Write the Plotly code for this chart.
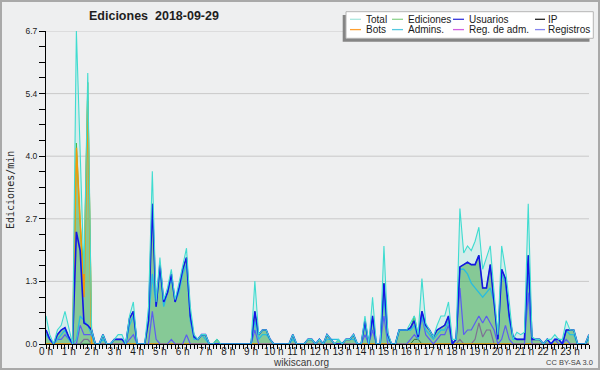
import plotly.graph_objects as go

# ---------------- data (10-minute bins, 0:00 .. 23:50), edits per minute ----------------
HOUR_LABELS = [f"{h} h" for h in range(24)]
BIN_X = [h + m / 60 for h in range(24) for m in (0, 10, 20, 30, 40, 50)]

TOTAL = [
    0.6, 0.2, 0.0, 0.3, 0.4, 0.7,      # 0 h
    0.35, 0.0, 6.7, 3.9, 1.5, 5.8,     # 1 h
    0.3, 0.0, 0.0, 0.2, 0.0, 0.0,      # 2 h
    0.1, 0.2, 0.2, 0.0, 0.6, 0.9,      # 3 h
    0.0, 0.0, 0.0, 0.8, 3.7, 0.9,      # 4 h
    1.85, 0.95, 1.2, 1.6, 0.95, 1.3,   # 5 h
    1.7, 2.05, 0.8, 0.2, 0.1, 0.2,     # 6 h
    0.2, 0.0, 0.0, 0.1, 0.0, 0.0,      # 7 h
    0.0, 0.0, 0.0, 0.0, 0.0, 0.0,      # 8 h
    0.0, 1.35, 0.2, 0.3, 0.3, 0.1,     # 9 h
    0.0, 0.0, 0.0, 0.0, 0.0, 0.2,      # 10 h
    0.0, 0.0, 0.0, 0.1, 0.1, 0.0,      # 11 h
    0.1, 0.0, 0.2, 0.1, 0.0, 0.1,      # 12 h
    0.0, 0.1, 0.1, 0.2, 0.0, 0.0,      # 13 h
    0.6, 0.0, 1.0, 0.0, 0.0, 2.1,      # 14 h
    0.25, 0.0, 0.0, 0.3, 0.3, 0.3,     # 15 h
    0.45, 0.6, 0.2, 1.4, 0.45, 0.3,    # 16 h
    0.15, 0.4, 0.6, 0.6, 0.9, 0.1,     # 17 h
    0.1, 2.9, 1.95, 2.1, 2.0, 2.2,     # 18 h
    2.5, 1.6, 1.85, 2.1, 1.1, 0.2,     # 19 h
    2.1, 1.6, 0.9, 0.1, 0.25, 0.2,     # 20 h
    0.25, 3.0, 0.15, 0.1, 0.1, 0.0,    # 21 h
    0.1, 0.1, 0.2, 0.1, 0.1, 0.5,      # 22 h
    0.3, 0.3, 0.0, 0.0, 0.0, 0.2,      # 23 h
]

EDICIONES = [
    0.3, 0.1, 0.0, 0.2, 0.3, 0.35,
    0.15, 0.0, 4.3, 2.6, 1.5, 5.6,
    0.3, 0.0, 0.0, 0.2, 0.0, 0.0,
    0.1, 0.1, 0.1, 0.0, 0.55, 0.7,
    0.0, 0.0, 0.0, 0.5, 3.0, 0.8,
    1.7, 0.9, 1.1, 1.5, 0.9, 1.2,
    1.6, 1.85, 0.6, 0.15, 0.1, 0.2,
    0.2, 0.0, 0.0, 0.1, 0.0, 0.0,
    0.0, 0.0, 0.0, 0.0, 0.0, 0.0,
    0.0, 0.7, 0.2, 0.3, 0.3, 0.1,
    0.0, 0.0, 0.0, 0.0, 0.0, 0.2,
    0.0, 0.0, 0.0, 0.1, 0.1, 0.0,
    0.1, 0.0, 0.2, 0.1, 0.0, 0.1,
    0.0, 0.1, 0.1, 0.2, 0.0, 0.0,
    0.5, 0.0, 0.6, 0.0, 0.0, 1.3,
    0.2, 0.0, 0.0, 0.3, 0.3, 0.3,
    0.35, 0.6, 0.2, 0.7, 0.4, 0.3,
    0.15, 0.3, 0.35, 0.4, 0.6, 0.0,
    0.1, 1.65, 1.7, 1.75, 1.7, 1.7,
    1.9, 1.2, 1.2, 1.7, 0.9, 0.1,
    1.6, 1.4, 0.6, 0.15, 0.1, 0.1,
    0.1, 1.9, 0.1, 0.1, 0.1, 0.0,
    0.1, 0.0, 0.1, 0.1, 0.0, 0.3,
    0.3, 0.3, 0.0, 0.0, 0.0, 0.2,
]

USUARIOS = [
    0.3, 0.1, 0.0, 0.2, 0.3, 0.35,
    0.15, 0.0, 2.4, 2.0, 0.45, 0.4,
    0.3, 0.0, 0.0, 0.2, 0.0, 0.0,
    0.1, 0.1, 0.1, 0.0, 0.55, 0.7,
    0.0, 0.0, 0.0, 0.5, 3.0, 0.8,
    1.7, 0.9, 1.1, 1.5, 0.9, 1.2,
    1.6, 1.85, 0.6, 0.15, 0.1, 0.2,
    0.2, 0.0, 0.0, 0.0, 0.0, 0.0,
    0.0, 0.0, 0.0, 0.0, 0.0, 0.0,
    0.0, 0.7, 0.2, 0.3, 0.3, 0.1,
    0.0, 0.0, 0.0, 0.0, 0.0, 0.2,
    0.0, 0.0, 0.0, 0.1, 0.1, 0.0,
    0.1, 0.0, 0.2, 0.1, 0.0, 0.0,
    0.0, 0.1, 0.1, 0.2, 0.0, 0.0,
    0.5, 0.0, 0.6, 0.0, 0.0, 1.3,
    0.2, 0.0, 0.0, 0.3, 0.3, 0.3,
    0.35, 0.5, 0.15, 0.7, 0.4, 0.3,
    0.15, 0.3, 0.35, 0.4, 0.6, 0.0,
    0.1, 1.65, 1.7, 1.75, 1.7, 1.7,
    1.9, 1.2, 1.2, 1.7, 0.9, 0.1,
    1.6, 1.4, 0.6, 0.15, 0.1, 0.1,
    0.1, 1.9, 0.1, 0.1, 0.1, 0.0,
    0.1, 0.0, 0.1, 0.1, 0.0, 0.3,
    0.3, 0.3, 0.0, 0.0, 0.0, 0.2,
]

IP = [0.0] * 45 + [0.1] + [0.0] * 51 + [0.1, 0.1] + [0.0] * 45

BOTS = [0.0] * 8 + [4.2, 2.6, 1.0, 5.2] + [0.0] * 132

ADMINS = [
    0.2, 0.1, 0.0, 0.1, 0.2, 0.3,
    0.1, 0.0, 0.1, 0.6, 0.5, 0.4,
    0.2, 0.0, 0.0, 0.1, 0.0, 0.0,
    0.1, 0.1, 0.1, 0.0, 0.4, 0.6,
    0.0, 0.0, 0.0, 0.5, 1.5, 0.8,
    1.6, 0.8, 1.1, 1.4, 0.9, 1.1,
    1.5, 1.7, 0.5, 0.1, 0.1, 0.2,
    0.1, 0.0, 0.0, 0.0, 0.0, 0.0,
    0.0, 0.0, 0.0, 0.0, 0.0, 0.0,
    0.0, 0.5, 0.1, 0.2, 0.2, 0.1,
    0.0, 0.0, 0.0, 0.0, 0.0, 0.1,
    0.0, 0.0, 0.0, 0.1, 0.1, 0.0,
    0.1, 0.0, 0.1, 0.1, 0.1, 0.1,
    0.0, 0.1, 0.1, 0.1, 0.0, 0.0,
    0.4, 0.0, 0.5, 0.0, 0.0, 1.0,
    0.1, 0.0, 0.0, 0.3, 0.3, 0.3,
    0.3, 0.4, 0.1, 0.6, 0.3, 0.2,
    0.1, 0.2, 0.3, 0.3, 0.5, 0.0,
    0.1, 1.6, 1.6, 1.5, 1.3, 1.2,
    1.1, 1.0, 1.1, 1.2, 0.9, 0.1,
    1.5, 1.3, 0.5, 0.1, 0.1, 0.1,
    0.1, 1.6, 0.1, 0.1, 0.1, 0.0,
    0.1, 0.0, 0.1, 0.1, 0.0, 0.3,
    0.2, 0.2, 0.0, 0.0, 0.0, 0.1,
]

REG_ADM = [0.0] * 10 + [0.1, 0.1] + [0.0] * 97 + [0.1, 0.0, 0.0, 0.0, 0.1,
           0.45, 0.15, 0.3, 0.3] + [0.0] * 26

REGISTROS = [
    0.2, 0.1, 0.0, 0.1, 0.1, 0.2,
    0.1, 0.0, 0.0, 0.4, 0.2, 0.2,
    0.2, 0.0, 0.0, 0.0, 0.0, 0.0,
    0.0, 0.0, 0.0, 0.0, 0.1, 0.2,
    0.0, 0.0, 0.0, 0.0, 0.7, 0.1,
    0.0, 0.0, 0.0, 0.1, 0.0, 0.0,
    0.0, 0.2, 0.0, 0.0, 0.0, 0.0,
    0.0, 0.0, 0.0, 0.0, 0.0, 0.0,
    0.0, 0.0, 0.0, 0.0, 0.0, 0.0,
    0.0, 0.3, 0.0, 0.0, 0.0, 0.0,
    0.0, 0.0, 0.0, 0.0, 0.0, 0.0,
    0.0, 0.0, 0.0, 0.0, 0.0, 0.0,
    0.0, 0.0, 0.0, 0.0, 0.0, 0.0,
    0.0, 0.0, 0.0, 0.0, 0.0, 0.0,
    0.2, 0.0, 0.3, 0.0, 0.0, 0.6,
    0.0, 0.0, 0.0, 0.0, 0.0, 0.0,
    0.1, 0.2, 0.1, 0.6, 0.2, 0.1,
    0.0, 0.1, 0.2, 0.2, 0.4, 0.0,
    0.1, 1.2, 0.2, 0.3, 0.3, 0.45,
    0.6, 0.45, 0.6, 0.45, 0.3, 0.0,
    0.1, 0.4, 0.1, 0.0, 0.0, 0.0,
    0.0, 1.1, 0.0, 0.0, 0.0, 0.0,
    0.0, 0.0, 0.1, 0.0, 0.0, 0.1,
    0.0, 0.0, 0.0, 0.0, 0.0, 0.0,
]

Y_TICKS = [0.0, 1.34, 2.68, 4.02, 5.36, 6.7]
Y_TICK_LABELS = ["0.0", "1.3", "2.7", "4.0", "5.4", "6.7"]

LEGEND_ROWS = [["Total", "Ediciones", "Usuarios", "IP"],
               ["Bots", "Admins.", "Reg. de adm.", "Registros"]]
LEGEND_COLORS = [["#a9e7df", "#8fd48f", "#3535dc", "#222222"],
                 ["#ffa030", "#55c8e0", "#d060e0", "#8585ee"]]

# ---------------- layout geometry ----------------
W, H = 600, 370
L, R, T, B = 46, 589, 31, 344
BG = "#eeeff0"


def px(X):
    return (X - L) / (R - L)


def py(Y):
    return (B - Y) / (B - T)


fig = go.Figure()

# Total light fill
fig.add_trace(go.Scatter(x=BIN_X, y=TOTAL, mode="lines", line=dict(width=0, color="rgba(0,0,0,0)"),
                         fill="tozeroy", fillcolor="rgba(64,224,208,0.15)", hoverinfo="skip"))
fig.add_trace(go.Scatter(x=BIN_X, y=IP, mode="lines", line=dict(color="#2b3b2b", width=1)))
fig.add_trace(go.Scatter(x=BIN_X, y=REG_ADM, mode="lines", line=dict(color="#c23ee6", width=1.2)))
fig.add_trace(go.Scatter(x=BIN_X, y=EDICIONES, mode="lines", line=dict(color="#44bb44", width=1),
                         fill="tozeroy", fillcolor="rgba(55,165,65,0.5)"))
fig.add_trace(go.Scatter(x=BIN_X, y=BOTS, mode="lines", line=dict(color="#f29a0a", width=1.6)))
fig.add_trace(go.Scatter(x=BIN_X, y=REGISTROS, mode="lines", line=dict(color="#5c5cf0", width=1.2)))
fig.add_trace(go.Scatter(x=BIN_X, y=ADMINS, mode="lines", line=dict(color="#28bde0", width=1.3)))
fig.add_trace(go.Scatter(x=BIN_X, y=USUARIOS, mode="lines", line=dict(color="#1414e6", width=1.6)))
fig.add_trace(go.Scatter(x=BIN_X, y=TOTAL, mode="lines", line=dict(color="#3fdcd0", width=1.1)))

# y ticks: labelled majors + three unlabelled ticks between each
y_tickvals, y_ticktext = [], []
for k in range(len(Y_TICKS) - 1):
    for q in range(4):
        y_tickvals.append(Y_TICKS[k] + (Y_TICKS[k + 1] - Y_TICKS[k]) * q / 4)
        y_ticktext.append(Y_TICK_LABELS[k] if q == 0 else "")
y_tickvals.append(Y_TICKS[-1])
y_ticktext.append(Y_TICK_LABELS[-1])

x_ticktext = [HOUR_LABELS[i // 6] if i % 6 == 0 else "" for i in range(len(BIN_X))]

shapes = []
for v in Y_TICKS[1:]:
    shapes.append(dict(type="line", xref="paper", yref="y", x0=0, x1=1, y0=v, y1=v,
                       line=dict(color="#c9c9c9", width=1), layer="below"))
# outer frame
shapes.append(dict(type="rect", xref="paper", yref="paper", x0=px(1), x1=px(599), y0=py(1), y1=py(369),
                   line=dict(color="#a9a9a9", width=2), fillcolor="rgba(0,0,0,0)", layer="above"))
# legend shadow + box
shapes.append(dict(type="rect", xref="paper", yref="paper", x0=px(342.7), x1=px(589.5), y0=py(15), y1=py(41.7),
                   line=dict(width=0), fillcolor="#858585", layer="above"))
shapes.append(dict(type="rect", xref="paper", yref="paper", x0=px(346), x1=px(593.3), y0=py(11.7), y1=py(38.3),
                   line=dict(color="#b5b5b5", width=1), fillcolor="#ffffff", layer="above"))

annotations = [
    dict(text="<b>Ediciones\u00a0 2018-09-29</b>", x=px(154), y=py(16.5), xref="paper", yref="paper",
         showarrow=False, xanchor="center", yanchor="middle",
         font=dict(family="Liberation Sans", size=12.5, color="#1e1e1e")),
    dict(text="Ediciones/min", x=px(10), y=py(190), xref="paper", yref="paper", textangle=-90,
         showarrow=False, xanchor="center", yanchor="middle",
         font=dict(family="DejaVu Sans Mono", size=10, color="#2a2a2a")),
    dict(text="wikiscan.org", x=px(301), y=py(362), xref="paper", yref="paper",
         showarrow=False, xanchor="center", yanchor="middle",
         font=dict(family="Liberation Sans", size=10, color="#3a3a3a")),
    dict(text="CC BY-SA 3.0", x=px(569), y=py(362.5), xref="paper", yref="paper",
         showarrow=False, xanchor="center", yanchor="middle",
         font=dict(family="Liberation Sans", size=7.5, color="#444444")),
]

col_line_x = [(350, 361), (392, 403), (453, 464), (535, 545)]
col_text_x = [366, 408.3, 469, 548]
row_y = [19.3, 29.6]
for r, (names, cols) in enumerate(zip(LEGEND_ROWS, LEGEND_COLORS)):
    for c, (name, colr) in enumerate(zip(names, cols)):
        x0, x1 = col_line_x[c]
        shapes.append(dict(type="line", xref="paper", yref="paper", x0=px(x0), x1=px(x1),
                           y0=py(row_y[r]), y1=py(row_y[r]), line=dict(color=colr, width=1.3), layer="above"))
        annotations.append(dict(text=name, x=px(col_text_x[c]), y=py(row_y[r]), xref="paper", yref="paper",
                                showarrow=False, xanchor="left", yanchor="middle", borderpad=0, borderwidth=0,
                                font=dict(family="Liberation Sans", size=10, color="#1a1a1a")))

fig.update_layout(
    width=W, height=H,
    margin=dict(l=L, r=W - R, t=T, b=H - B, pad=0),
    paper_bgcolor=BG, plot_bgcolor=BG,
    showlegend=False,
    shapes=shapes, annotations=annotations,
    xaxis=dict(range=[0, BIN_X[-1]], tickmode="array", tickvals=BIN_X, ticktext=x_ticktext,
               ticks="outside", ticklen=4, tickcolor="#000", tickwidth=1, ticklabelstandoff=-6,
               showline=True, linecolor="#000", linewidth=1, showgrid=False, zeroline=False,
               tickangle=0, tickfont=dict(family="Liberation Sans", size=10, color="#1a1a1a")),
    yaxis=dict(range=[0, 6.7], tickmode="array", tickvals=y_tickvals, ticktext=y_ticktext,
               ticks="outside", ticklen=6, tickcolor="#000", tickwidth=1,
               showline=True, linecolor="#000", linewidth=1, showgrid=False, zeroline=False,
               tickfont=dict(family="Liberation Sans", size=8.5, color="#1a1a1a")),
)

fig.write_html("out.html", config={"displayModeBar": False},
               post_script="document.body.style.margin='0';document.body.style.overflow='hidden';")
